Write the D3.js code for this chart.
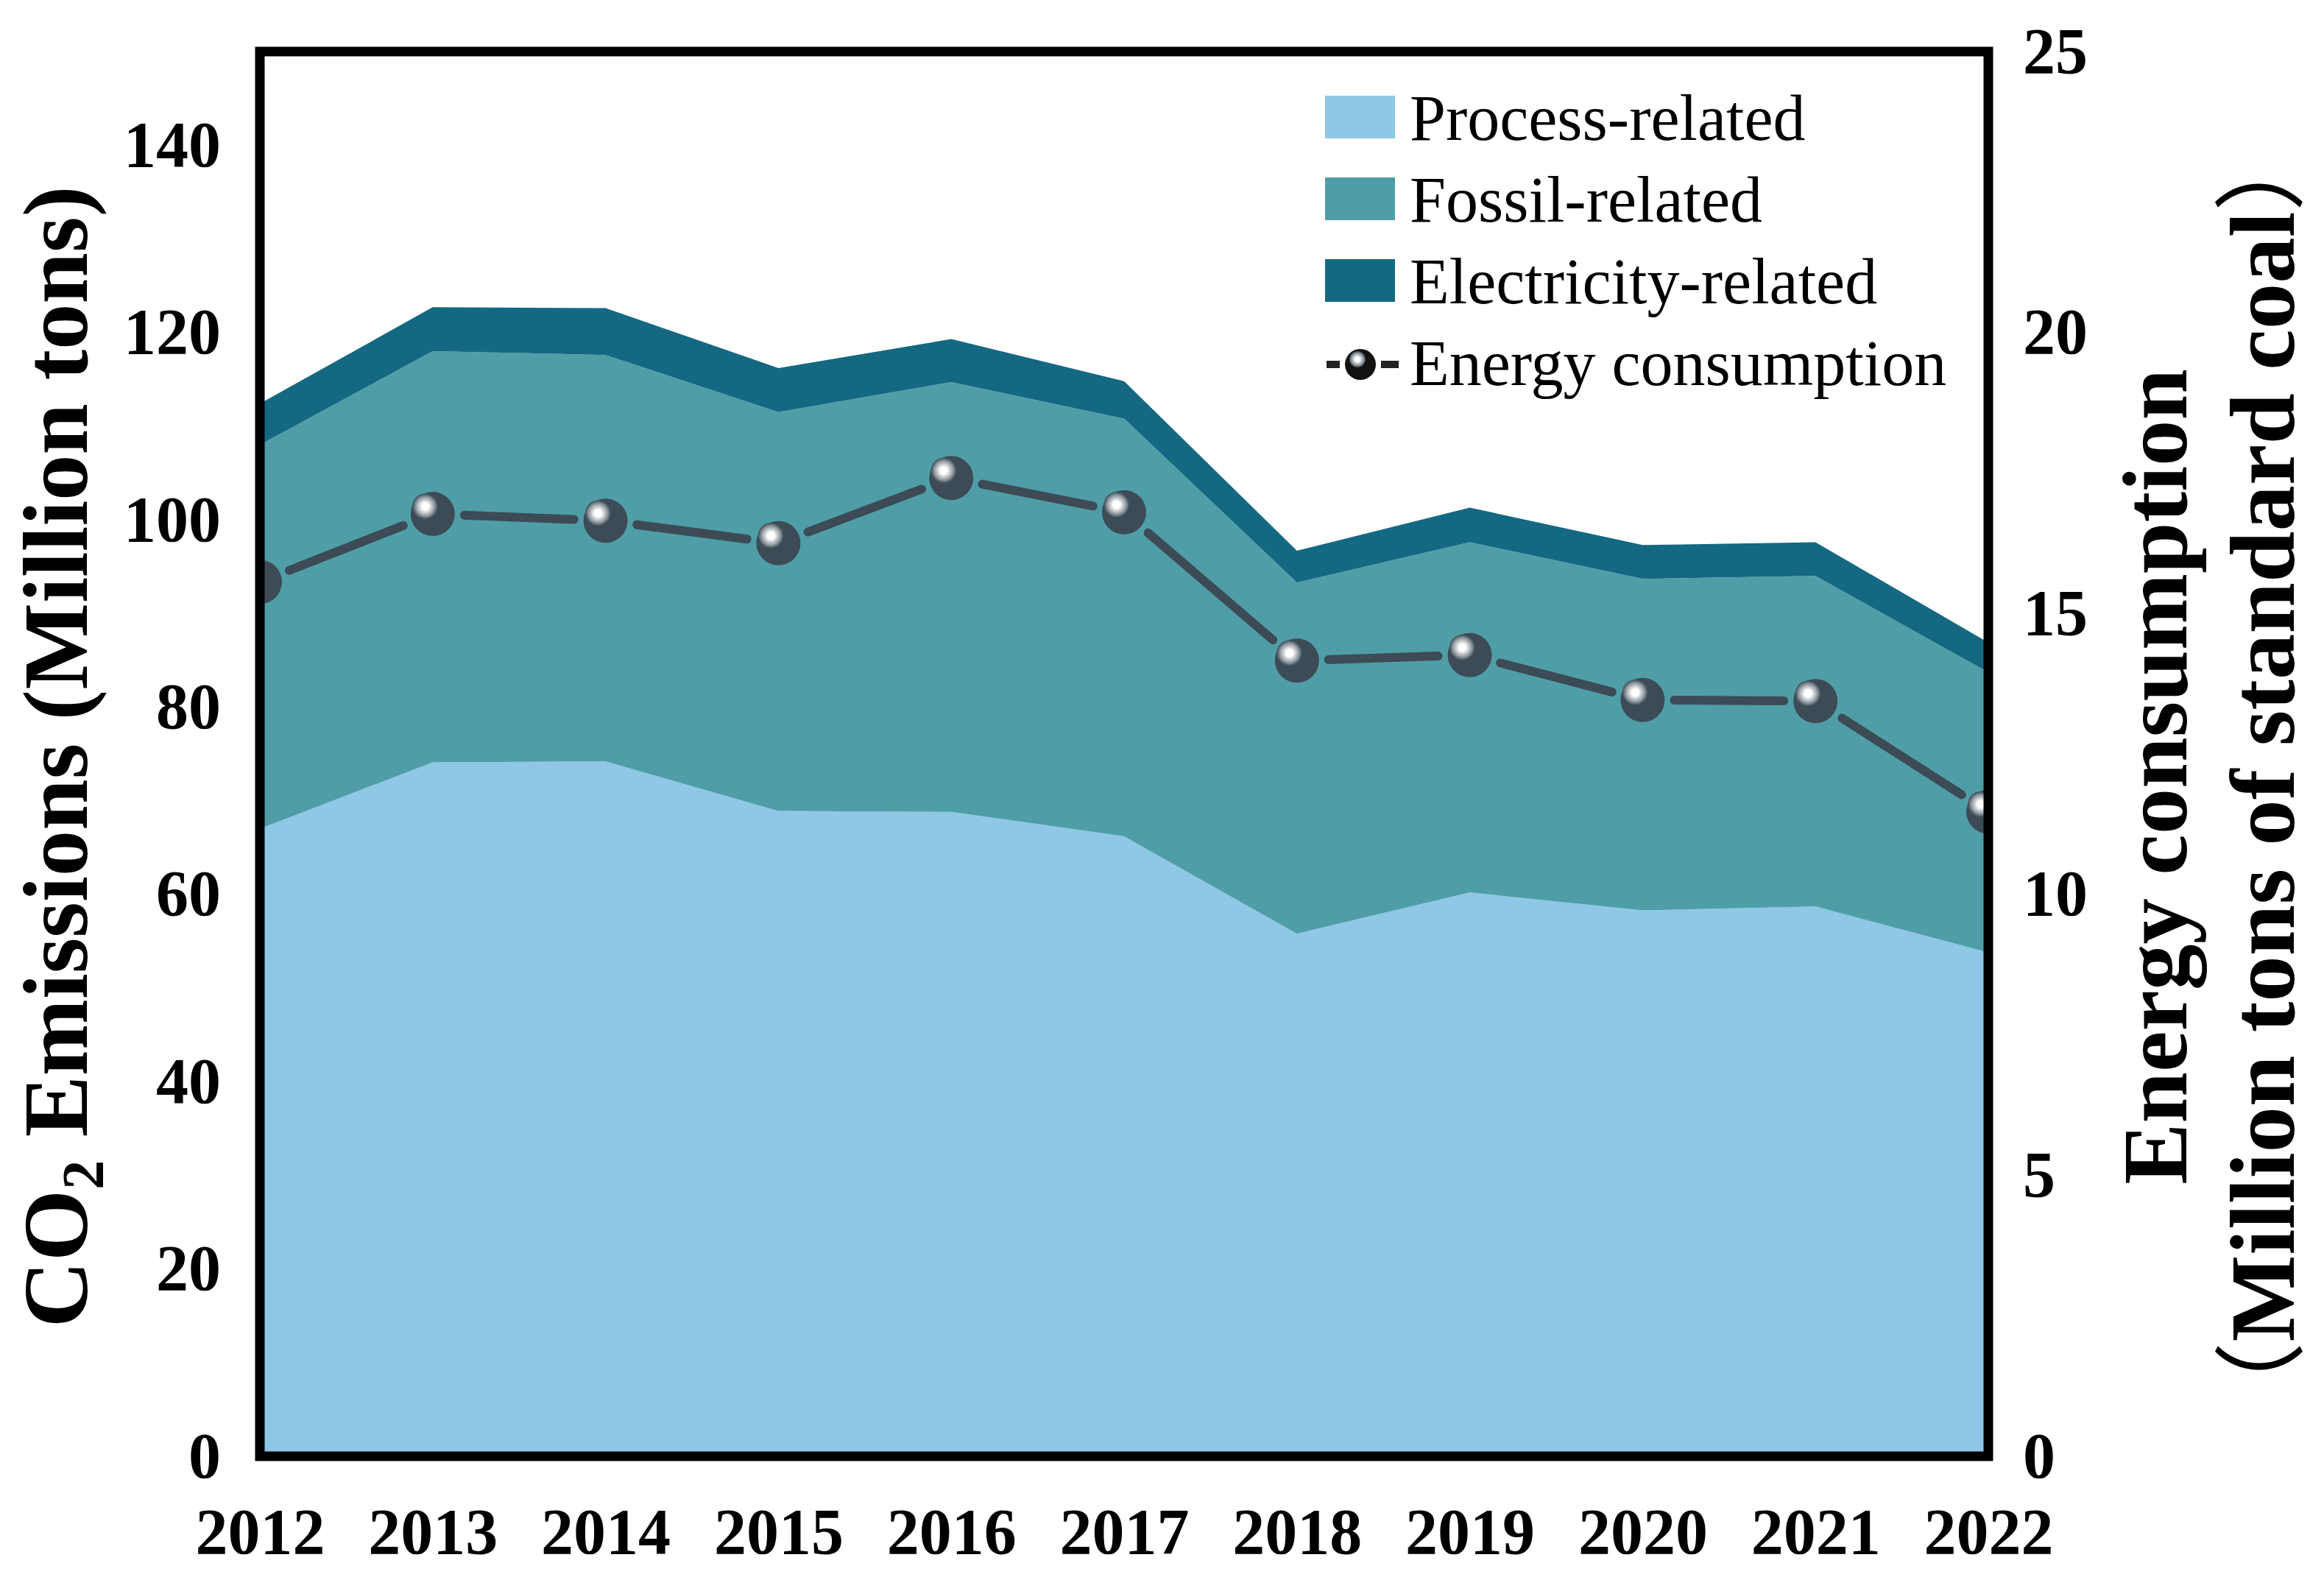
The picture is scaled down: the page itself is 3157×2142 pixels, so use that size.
<!DOCTYPE html>
<html>
<head>
<meta charset="utf-8">
<script src="https://cdn.jsdelivr.net/npm/d3@7"></script>
<style>
    body { margin: 0; background: #fff; }
    svg { display: block; }
    .tick-label { font-family: "Liberation Serif", "Times New Roman", serif; font-weight: bold; font-size: 88px; fill: #000; }
    .axis-title { font-family: "Liberation Serif", "Times New Roman", serif; font-weight: bold; font-size: 125px; fill: #000; }
    .legend-text { font-family: "Liberation Serif", "Times New Roman", serif; font-size: 88px; fill: #000; }
</style>
</head>
<body>
<div id="chart"></div>
<script>
// data
const years = [2012, 2013, 2014, 2015, 2016, 2017, 2018, 2019, 2020, 2021, 2022];
const processRelated = [67.0, 74.1, 74.2, 68.9, 68.8, 66.2, 55.8, 60.2, 58.3, 58.7, 53.8];
const fossilRelated = [41.0, 43.9, 43.4, 42.6, 45.9, 44.6, 37.5, 37.4, 35.4, 35.3, 29.9];
const electricityRelated = [4.4, 4.7, 5.0, 4.7, 4.6, 4.0, 3.4, 3.7, 3.6, 3.6, 3.2];
const energyConsumption = [15.56, 16.77, 16.65, 16.25, 17.41, 16.80, 14.16, 14.26, 13.46, 13.44, 11.47];

const seriesNames = ["Process-related", "Fossil-related", "Electricity-related"];
const seriesColors = ["#8fc7e6", "#4f9ea7", "#156882"];
const leftTicks = [0, 20, 40, 60, 80, 100, 120, 140];
const rightTicks = [0, 5, 10, 15, 20, 25];

const svgWidth = 3157,
    svgHeight = 2142,
    plot = { left: 353, right: 2701, top: 70, bottom: 1978 },
    markerR = 30,
    lineColor = "#3c4b56";

let svg = d3.select("#chart").append("svg")
    .attr("width", svgWidth)
    .attr("height", svgHeight);

let defs = svg.append("defs");
let grad = defs.append("radialGradient").attr("id", "shine");
grad.append("stop").attr("offset", "0%").attr("stop-color", "#ffffff");
grad.append("stop").attr("offset", "28%").attr("stop-color", "#ffffff");
grad.append("stop").attr("offset", "45%").attr("stop-color", "#d3d7da");
grad.append("stop").attr("offset", "72%").attr("stop-color", "#959da3");
grad.append("stop").attr("offset", "100%").attr("stop-color", lineColor);

defs.append("clipPath").attr("id", "plot-clip")
    .append("rect")
    .attr("x", plot.left).attr("y", plot.top)
    .attr("width", plot.right - plot.left)
    .attr("height", plot.bottom - plot.top);

// scales
let xScale = d3.scaleLinear().domain([2012, 2022]).range([plot.left, plot.right]);
let yScale = d3.scaleLinear().domain([0, 150]).range([plot.bottom, plot.top]);
let y2Scale = d3.scaleLinear().domain([0, 25]).range([plot.bottom, plot.top]);

// stacked areas
let rows = years.map((yr, i) => ({
    year: yr,
    "Process-related": processRelated[i],
    "Fossil-related": fossilRelated[i],
    "Electricity-related": electricityRelated[i]
}));
let stacked = d3.stack().keys(seriesNames)(rows);

let area = d3.area()
    .x(d => xScale(d.data.year))
    .y0(d => yScale(d[0]))
    .y1(d => yScale(d[1]));

let plotG = svg.append("g").attr("clip-path", "url(#plot-clip)");

plotG.selectAll("path.layer")
    .data(stacked)
    .join("path")
    .attr("class", "layer")
    .attr("d", area)
    .attr("fill", (d, i) => seriesColors[i]);

// energy consumption line, drawn as segments with a gap around each marker
let pts = years.map((yr, i) => [xScale(yr), y2Scale(energyConsumption[i])]);
let gap = markerR + 13;
let segs = d3.pairs(pts).map(([a, b]) => {
    let dx = b[0] - a[0], dy = b[1] - a[1], len = Math.hypot(dx, dy);
    let ux = dx / len, uy = dy / len;
    return [a[0] + ux * gap, a[1] + uy * gap, b[0] - ux * gap, b[1] - uy * gap];
});

plotG.selectAll("line.seg")
    .data(segs)
    .join("line")
    .attr("class", "seg")
    .attr("x1", d => d[0]).attr("y1", d => d[1])
    .attr("x2", d => d[2]).attr("y2", d => d[3])
    .attr("stroke", lineColor)
    .attr("stroke-width", 12)
    .attr("stroke-linecap", "round");

function drawMarker(g, r) {
    g.append("circle").attr("r", r).attr("fill", lineColor);
    g.append("circle")
        .attr("cx", -r * 0.34).attr("cy", -r * 0.34)
        .attr("r", r * 0.58)
        .attr("fill", "url(#shine)");
}

plotG.selectAll("g.marker")
    .data(pts)
    .join("g")
    .attr("class", "marker")
    .attr("transform", d => `translate(${d[0]},${d[1]})`)
    .each(function () { drawMarker(d3.select(this), markerR); });

// frame
svg.append("rect")
    .attr("x", plot.left).attr("y", plot.top)
    .attr("width", plot.right - plot.left)
    .attr("height", plot.bottom - plot.top)
    .attr("fill", "none")
    .attr("stroke", "#000")
    .attr("stroke-width", 13);

// axes
let xAxis = svg.append("g")
    .attr("transform", `translate(0,${plot.bottom})`)
    .call(d3.axisBottom(xScale).tickValues(years).tickFormat(d3.format("d")).tickSize(0).tickPadding(70));
let leftAxis = svg.append("g")
    .attr("transform", `translate(${plot.left},0)`)
    .call(d3.axisLeft(yScale).tickValues(leftTicks).tickSize(0).tickPadding(53));
let rightAxis = svg.append("g")
    .attr("transform", `translate(${plot.right},0)`)
    .call(d3.axisRight(y2Scale).tickValues(rightTicks).tickSize(0).tickPadding(47));

[xAxis, leftAxis, rightAxis].forEach(ax => {
    ax.select(".domain").remove();
    ax.attr("font-family", null).attr("font-size", null);
    ax.selectAll("text").attr("class", "tick-label");
});

// axis titles
let leftTitle = svg.append("text")
    .attr("class", "axis-title")
    .attr("text-anchor", "middle")
    .attr("transform", "translate(118,1028) rotate(-90)");
leftTitle.append("tspan").text("CO");
leftTitle.append("tspan").attr("font-size", "80px").attr("dy", 22).text("2");
leftTitle.append("tspan").attr("dy", -22).text(" Emissions (Million tons)");

svg.append("text")
    .attr("class", "axis-title")
    .attr("text-anchor", "middle")
    .attr("transform", "translate(2970,1055) rotate(-90)")
    .text("Energy consumption");

let rightTitle2 = svg.append("text")
    .attr("class", "axis-title")
    .attr("text-anchor", "middle")
    .attr("transform", "translate(3116,1055) rotate(-90)");
rightTitle2.append("tspan").attr("font-family", "'Noto Sans CJK SC'").attr("font-weight", "normal").text("（");
rightTitle2.append("tspan").text("Million tons of standard coal");
rightTitle2.append("tspan").attr("font-family", "'Noto Sans CJK SC'").attr("font-weight", "normal").text("）");

// legend
let legend = svg.append("g");
let rowY = [159, 270, 381, 492];

seriesNames.forEach((name, i) => {
    legend.append("rect")
        .attr("x", 1800).attr("y", rowY[i] - 29)
        .attr("width", 95).attr("height", 58)
        .attr("fill", seriesColors[i]);
    legend.append("text")
        .attr("class", "legend-text")
        .attr("x", 1915).attr("y", rowY[i])
        .attr("dy", "0.35em")
        .text(name);
});

legend.append("line")
    .attr("x1", 1802).attr("x2", 1820)
    .attr("y1", rowY[3] + 3).attr("y2", rowY[3] + 3)
    .attr("stroke", "#222").attr("stroke-width", 10);
legend.append("line")
    .attr("x1", 1876).attr("x2", 1900)
    .attr("y1", rowY[3] + 3).attr("y2", rowY[3] + 3)
    .attr("stroke", "#222").attr("stroke-width", 10);
let lm = legend.append("g").attr("transform", `translate(1848,${rowY[3] + 3})`);
lm.append("circle").attr("r", 21).attr("fill", "#111");
lm.append("circle").attr("cx", -4).attr("cy", -7).attr("r", 11).attr("fill", "url(#shine)");

legend.append("text")
    .attr("class", "legend-text")
    .attr("x", 1915).attr("y", rowY[3])
    .attr("dy", "0.35em")
    .text("Energy consumption");
</script>
</body>
</html>
